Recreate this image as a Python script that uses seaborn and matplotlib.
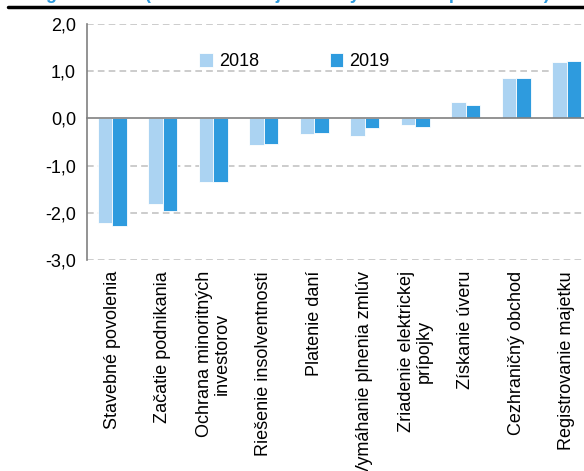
import pandas as pd
import matplotlib.pyplot as plt
import matplotlib.lines as mlines
import seaborn as sns

sns.set_style("white")
plt.rcParams['font.family'] = ['Liberation Sans', 'DejaVu Sans']
plt.rcParams['text.color'] = 'black'
plt.rcParams['xtick.color'] = 'black'
plt.rcParams['ytick.color'] = 'black'

categories = ["Stavebné povolenia", "Začatie podnikania", "Ochrana minoritných\ninvestorov",
              "Riešenie insolventnosti", "Platenie daní", "Vymáhanie plnenia zmlúv",
              "Zriadenie elektrickej\nprípojky", "Získanie úveru", "Cezhraničný obchod",
              "Registrovanie majetku"]
v2018 = [-2.22, -1.82, -1.35, -0.56, -0.32, -0.37, -0.15, 0.35, 0.85, 1.20]
v2019 = [-2.27, -1.97, -1.35, -0.55, -0.30, -0.20, -0.18, 0.28, 0.85, 1.22]
years = ["2018", "2019"]
colors = ["#ABD3F2", "#2E9BDE"]
yticks = [2, 1, 0, -1, -2, -3]

df = pd.DataFrame({
    "oblast": categories * 2,
    "rok": [years[0]] * len(categories) + [years[1]] * len(categories),
    "hodnota": v2018 + v2019,
})

fig = plt.figure(figsize=(5.84, 4.71), dpi=100)
ax = fig.add_axes([87 / 584, 1 - 260 / 471, (592 - 87) / 584, (260 - 24) / 471])

sns.barplot(data=df, x="oblast", y="hodnota", hue="rok", palette=colors, saturation=1,
            width=0.57, edgecolor="white", linewidth=0.6, ax=ax, legend=True)

ax.set_ylim(-3, 2)
ax.set_xlim(-0.5, len(categories) - 0.5)
ax.set_yticks(yticks)
ax.set_yticklabels([f"{t:.1f}".replace(".", ",") for t in yticks], fontsize=13)
for t in yticks:
    if t != 0:
        ax.axhline(t, color="#C4C4C4", lw=1.2, ls=(0, (4, 2.5)), zorder=0)
ax.set_xlabel("")
ax.set_ylabel("")

# spines
for s in ["top", "right"]:
    ax.spines[s].set_visible(False)
ax.spines["left"].set_color("#808080")
ax.spines["left"].set_linewidth(1.2)
ax.spines["bottom"].set_position(("data", 0))
ax.spines["bottom"].set_color("#808080")
ax.spines["bottom"].set_linewidth(1.2)
ax.tick_params(axis="y", direction="out", length=5, color="#808080", width=1.2, pad=3)
ax.set_xticks(range(len(categories)))
ax.set_xticks([i + 0.5 for i in range(len(categories) - 1)], minor=True)
ax.tick_params(axis="x", which="major", direction="out", length=4, color="#808080",
               width=1.2, labelbottom=False)
ax.tick_params(axis="x", which="minor", direction="in", length=5, color="#808080", width=1.2)

sec = ax.secondary_xaxis("bottom")
sec.set_xticks(range(len(categories)))
sec.set_xticklabels(categories, rotation=90, fontsize=13, ha="center", va="top",
                    linespacing=1.1)
sec.tick_params(length=0, pad=8)
sec.spines["bottom"].set_visible(False)

leg = ax.legend(loc="upper left", bbox_to_anchor=(0.19, 0.945), ncol=2, frameon=False,
                fontsize=13, handlelength=0.75, handleheight=0.75, handletextpad=0.35,
                columnspacing=3.9)

# clipped title and rule at top
fig.text(0.01, 1.012, "Doing business (zatraktívnenie jednotlivých oblastí podnikania)",
         color="#2E9BDE", fontsize=13, fontweight="bold", ha="left", va="center")
fig.add_artist(mlines.Line2D([8 / 584, 1], [1 - 6.5 / 471] * 2, color="black", lw=2.5))

fig.savefig("out.png", dpi=100)
